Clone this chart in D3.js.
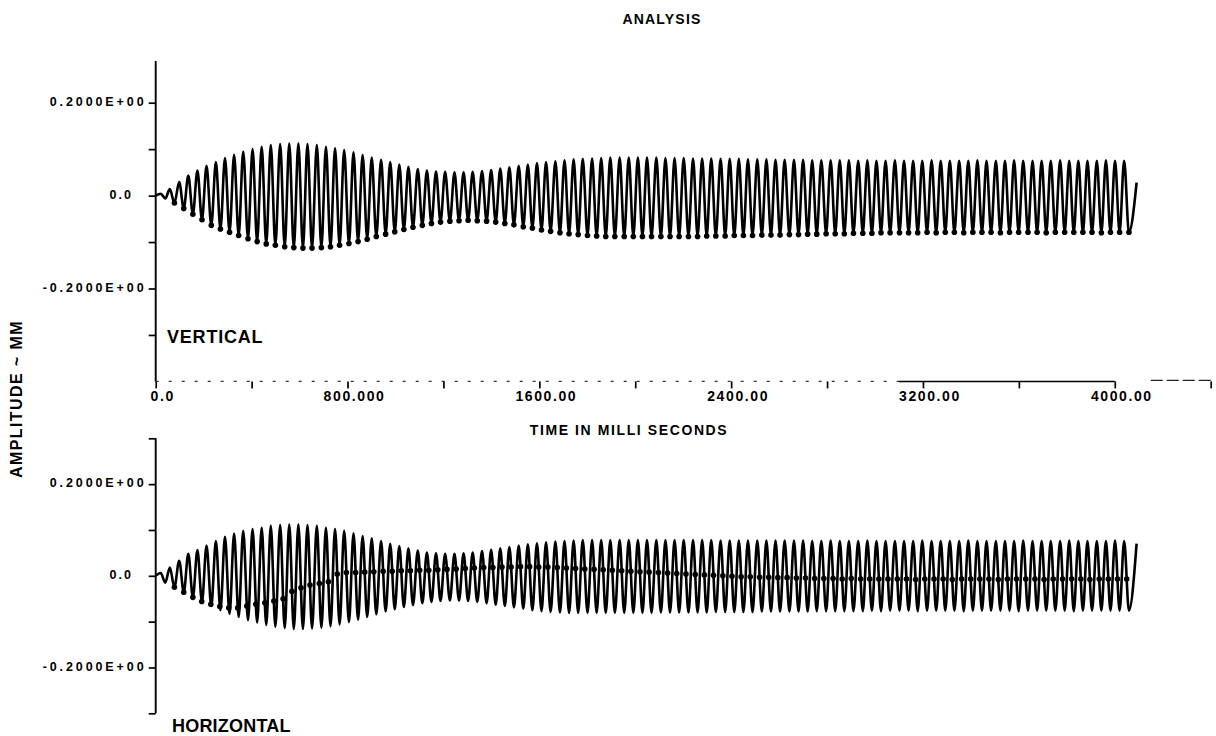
<!DOCTYPE html>
<html><head><meta charset="utf-8">
<script src="https://cdn.jsdelivr.net/npm/d3@7"></script>
<style>body{margin:0;background:#fff}svg{display:block}</style>
</head><body><svg id="c" width="1216" height="736"></svg>
<script>
// ---- data ----
const peakTimes = [21,59,98,136,174,212,251,289,327,365,
404,442,480,519,557,595,633,672,710,748,
786,825,863,901,940,978,1016,1054,1093,1131,
1169,1207,1246,1284,1322,1361,1399,1437,1475,1514,
1552,1590,1628,1667,1705,1743,1781,1820,1858,1896,
1935,1973,2011,2049,2088,2126,2164,2202,2241,2279,
2317,2356,2394,2432,2470,2509,2547,2585,2623,2662,
2700,2738,2776,2815,2853,2891,2930,2968,3006,3044,
3083,3121,3159,3197,3236,3274,3312,3351,3389,3427,
3465,3504,3542,3580,3618,3657,3695,3733,3772,3810,
3848,3886,3925,3963,4001,4039];
const troughTimes = [40,78,117,155,193,232,270,308,346,385,
423,461,499,538,576,614,652,691,729,767,
806,844,882,920,959,997,1035,1073,1112,1150,
1188,1227,1265,1303,1341,1380,1418,1456,1494,1533,
1571,1609,1647,1686,1724,1762,1801,1839,1877,1915,
1954,1992,2030,2068,2107,2145,2183,2222,2260,2298,
2336,2375,2413,2451,2489,2528,2566,2604,2643,2681,
2719,2757,2796,2834,2872,2910,2949,2987,3025,3063,
3102,3140,3178,3217,3255,3293,3331,3370,3408,3446,
3484,3523,3561,3599,3638,3676,3714,3752,3791,3829,
3867,3905,3944,3982,4020,4059];
const endTime = 4091;

const vertPeaks = [0.004,0.014,0.029,0.043,0.054,0.064,0.072,0.081,0.088,0.095,
0.100,0.105,0.109,0.111,0.112,0.112,0.111,0.109,0.105,0.102,
0.098,0.093,0.088,0.082,0.077,0.072,0.067,0.062,0.057,0.054,
0.052,0.051,0.050,0.050,0.051,0.053,0.055,0.058,0.061,0.064,
0.067,0.070,0.072,0.074,0.076,0.078,0.079,0.080,0.081,0.082,
0.082,0.082,0.082,0.082,0.082,0.081,0.081,0.081,0.080,0.080,
0.080,0.079,0.079,0.079,0.078,0.078,0.078,0.077,0.077,0.077,
0.077,0.076,0.076,0.076,0.076,0.076,0.075,0.076,0.075,0.075,
0.076,0.075,0.075,0.075,0.076,0.075,0.075,0.075,0.075,0.076,
0.075,0.075,0.075,0.076,0.075,0.075,0.075,0.075,0.076,0.075,
0.075,0.075,0.075,0.076,0.075,0.075];
const vertTroughs = [-0.006,-0.016,-0.028,-0.040,-0.052,-0.064,-0.072,-0.079,-0.086,-0.093,
-0.099,-0.104,-0.107,-0.110,-0.112,-0.113,-0.113,-0.112,-0.110,-0.107,
-0.103,-0.099,-0.094,-0.088,-0.083,-0.078,-0.073,-0.068,-0.064,-0.060,
-0.057,-0.055,-0.054,-0.053,-0.054,-0.055,-0.057,-0.060,-0.063,-0.067,
-0.070,-0.074,-0.077,-0.080,-0.082,-0.084,-0.086,-0.087,-0.088,-0.088,
-0.088,-0.088,-0.088,-0.088,-0.088,-0.088,-0.088,-0.088,-0.088,-0.087,
-0.087,-0.087,-0.086,-0.086,-0.086,-0.085,-0.085,-0.085,-0.084,-0.084,
-0.083,-0.083,-0.082,-0.082,-0.082,-0.081,-0.081,-0.081,-0.080,-0.080,
-0.080,-0.080,-0.080,-0.079,-0.080,-0.079,-0.079,-0.080,-0.079,-0.079,
-0.079,-0.080,-0.079,-0.079,-0.079,-0.079,-0.080,-0.079,-0.079,-0.079,
-0.079,-0.079,-0.080,-0.079,-0.079,-0.079];
const vertEnd = 0.028;

const horPeaks = [0.006,0.018,0.033,0.048,0.056,0.066,0.076,0.085,0.092,0.098,
0.102,0.105,0.109,0.111,0.112,0.112,0.111,0.109,0.105,0.102,
0.098,0.093,0.087,0.082,0.076,0.070,0.065,0.060,0.055,0.051,
0.049,0.048,0.048,0.049,0.051,0.054,0.057,0.060,0.063,0.066,
0.069,0.071,0.073,0.075,0.076,0.077,0.078,0.078,0.078,0.078,
0.078,0.078,0.078,0.078,0.078,0.078,0.078,0.078,0.078,0.078,
0.078,0.077,0.077,0.077,0.077,0.077,0.077,0.077,0.077,0.077,
0.077,0.076,0.076,0.077,0.076,0.076,0.076,0.077,0.076,0.076,
0.076,0.076,0.076,0.077,0.076,0.076,0.076,0.076,0.077,0.076,
0.076,0.076,0.076,0.076,0.077,0.076,0.076,0.076,0.076,0.077,
0.076,0.076,0.076,0.076,0.077,0.076];
const horTroughs = [-0.015,-0.025,-0.036,-0.047,-0.057,-0.066,-0.075,-0.083,-0.090,-0.097,
-0.102,-0.107,-0.111,-0.114,-0.116,-0.116,-0.115,-0.113,-0.110,-0.106,
-0.101,-0.096,-0.090,-0.084,-0.078,-0.073,-0.068,-0.064,-0.060,-0.057,
-0.055,-0.054,-0.054,-0.055,-0.057,-0.060,-0.063,-0.066,-0.069,-0.072,
-0.075,-0.077,-0.079,-0.080,-0.081,-0.081,-0.081,-0.081,-0.081,-0.081,
-0.081,-0.081,-0.081,-0.081,-0.080,-0.080,-0.080,-0.080,-0.080,-0.080,
-0.079,-0.079,-0.079,-0.079,-0.079,-0.078,-0.078,-0.078,-0.078,-0.078,
-0.078,-0.077,-0.077,-0.077,-0.077,-0.077,-0.077,-0.076,-0.077,-0.076,
-0.076,-0.076,-0.077,-0.076,-0.076,-0.076,-0.076,-0.077,-0.076,-0.076,
-0.076,-0.076,-0.076,-0.077,-0.076,-0.076,-0.076,-0.076,-0.076,-0.077,
-0.076,-0.076,-0.076,-0.076,-0.076,-0.076];
const horEnd = 0.07;
// dot marker level on each cycle of the horizontal trace
const horDots = [null,-0.030,-0.040,-0.048,-0.056,-0.062,-0.067,-0.070,-0.070,-0.066,
-0.062,-0.059,-0.055,-0.050,-0.034,-0.026,-0.020,-0.017,-0.013,0.004,
0.007,0.007,0.008,0.009,0.010,0.010,0.011,0.011,0.012,0.012,
0.013,0.014,0.015,0.016,0.017,0.018,0.018,0.019,0.019,0.020,
0.020,0.019,0.019,0.018,0.017,0.016,0.015,0.014,0.013,0.012,
0.011,0.010,0.009,0.008,0.007,0.006,0.005,0.004,0.003,0.002,
0.001,0.000,-0.001,-0.002,-0.002,-0.003,-0.003,-0.004,-0.004,-0.005,
-0.005,-0.006,-0.006,-0.006,-0.007,-0.006,-0.007,-0.007,-0.007,-0.007,
-0.007,-0.007,-0.008,-0.007,-0.007,-0.007,-0.008,-0.007,-0.007,-0.007,
-0.007,-0.008,-0.007,-0.007,-0.007,-0.007,-0.008,-0.007,-0.007,-0.007,
-0.007,-0.008,-0.007,-0.007,-0.007,-0.007];

const xTicks = [0,400,800,1200,1600,2000,2400,2800,3200,3600,4000,4400];
const xTickLabels = {0:"0.0",800:"800.000",1600:"1600.00",2400:"2400.00",3200:"3200.00",4000:"4000.00"};
const yTicksTop = [0.2,0.1,0,-0.1,-0.2,-0.3];
const yTicksBottom = [0.3,0.2,0.1,0,-0.1,-0.2,-0.3];
const yTickLabels = {"0.2":"0.2000E+00","0":"0.0","-0.2":"-0.2000E+00"};
const titleText = "ANALYSIS";
const xTitle = "TIME IN MILLI SECONDS";
const yTitle = "AMPLITUDE ~ MM";
const panelNames = ["VERTICAL","HORIZONTAL"];

// ---- drawing ----
const svg = d3.select("#c");
svg.append("rect").attr("width",1216).attr("height",736).attr("fill","#fff");
const FONT = "'Liberation Sans', Arial, Helvetica, sans-serif";

const x = d3.scaleLinear().domain([0,4400]).range([155.7,1210.7]);
const yTop = d3.scaleLinear().domain([-0.4,0.2]).range([381.4,102.7]);
const yBot = d3.scaleLinear().domain([-0.3,0.3]).range([713.3,438.3]);

function buildPoints(peaks, troughs, endVal){
  const pts=[[0,0]];
  for(let k=0;k<peakTimes.length;k++){
    pts.push([peakTimes[k],peaks[k]]);
    pts.push([troughTimes[k],troughs[k]]);
  }
  pts.push([endTime,endVal]);
  return pts;
}

function drawPanel(y, peaks, troughs, endVal, yTicks, axisTopVal){
  const g = svg.append("g");
  const ax = d3.axisLeft(y).tickValues(yTicks).tickSize(7).tickFormat("");
  const ag = g.append("g").attr("transform",`translate(${x(0)},0)`).call(ax);
  ag.select(".domain").remove();
  ag.selectAll(".tick line").attr("stroke","#000").attr("stroke-width",1.7);
  g.append("line").attr("x1",x(0)).attr("x2",x(0))
    .attr("y1",y(y.domain()[0])).attr("y2",y(axisTopVal))
    .attr("stroke","#000").attr("stroke-width",1.9);
  yTicks.forEach(v=>{
    const key = String(+v.toFixed(1));
    const lab = yTickLabels[key];
    if(!lab) return;
    g.append("text").attr("x", lab==="0.0" ? 133 : 146.5).attr("y", y(v)+3.2)
      .attr("text-anchor","end").attr("font-family",FONT).attr("font-weight","bold")
      .attr("font-size",12.5).attr("letter-spacing", lab==="0.0" ? 2 : 2.9).text(lab);
  });
  const pts = buildPoints(peaks, troughs, endVal);
  const line = d3.line().x(d=>x(d[0])).y(d=>y(d[1])).curve(d3.curveMonotoneX);
  g.append("path").datum(pts).attr("d",line).attr("fill","none")
    .attr("stroke","#000").attr("stroke-width",2.6).attr("stroke-linejoin","round");
  return g;
}

const gTop = drawPanel(yTop, vertPeaks, vertTroughs, vertEnd, yTicksTop, 0.29);
gTop.selectAll("circle.m").data(d3.range(1,peakTimes.length)).join("circle")
  .attr("cx",k=>x(troughTimes[k])).attr("cy",k=>yTop(vertTroughs[k]))
  .attr("r",2.8).attr("fill","#000");

const gBot = drawPanel(yBot, horPeaks, horTroughs, horEnd, yTicksBottom, 0.3);
const dotPts = [];
horDots.forEach((v,k)=>{
  if(v===null) return;
  const up=horPeaks[k], lo=horTroughs[k];
  let f=(up-v)/(up-lo); f=Math.max(0,Math.min(1,f));
  let u=f; for(let i=0;i<20;i++){ const s=3*u*u-2*u*u*u; const ds=6*u-6*u*u||1e-3; u=Math.max(0,Math.min(1,u-(s-f)/ds)); }
  const t=peakTimes[k]+u*(troughTimes[k]-peakTimes[k]);
  dotPts.push([t, Math.max(lo,Math.min(up,v))]);
});
gBot.selectAll("circle.m").data(dotPts).join("circle")
  .attr("cx",d=>x(d[0])).attr("cy",d=>yBot(d[1])).attr("r",2.8).attr("fill","#000");

// x axis (top panel baseline)
const xAxisY = yTop(-0.4);
const xa = d3.axisBottom(x).tickValues(xTicks).tickSize(7).tickFormat("");
const xg = svg.append("g").attr("transform",`translate(0,${xAxisY})`).call(xa);
xg.select(".domain").remove();
xg.selectAll(".tick line").attr("stroke","#000").attr("stroke-width",1.7);
svg.append("line").attr("x1",x(0)).attr("x2",x(3100)).attr("y1",xAxisY).attr("y2",xAxisY)
  .attr("stroke","#333").attr("stroke-width",1.2).attr("stroke-dasharray","3,10");
svg.append("line").attr("x1",x(3100)).attr("x2",x(4000)).attr("y1",xAxisY).attr("y2",xAxisY)
  .attr("stroke","#000").attr("stroke-width",1.5);
svg.append("line").attr("x1",x(4150)).attr("x2",x(4400)).attr("y1",xAxisY-1).attr("y2",xAxisY-1)
  .attr("stroke","#222").attr("stroke-width",1.3).attr("stroke-dasharray","12,4");
xTicks.forEach(v=>{
  const lab = xTickLabels[v]; if(!lab) return;
  svg.append("text").attr("x",x(v)+7).attr("y",xAxisY+20).attr("text-anchor","middle")
    .attr("font-family",FONT).attr("font-weight","bold").attr("font-size",14)
    .attr("letter-spacing",1.6).text(lab);
});

// titles
svg.append("text").attr("x",662).attr("y",24).attr("text-anchor","middle")
  .attr("font-family",FONT).attr("font-weight","bold").attr("font-size",14)
  .attr("letter-spacing",1.2).text(titleText);
svg.append("text").attr("x",629).attr("y",435).attr("text-anchor","middle")
  .attr("font-family",FONT).attr("font-weight","bold").attr("font-size",14)
  .attr("letter-spacing",1.6).text(xTitle);
svg.append("text").attr("transform","translate(22,399) rotate(-90)").attr("text-anchor","middle")
  .attr("font-family",FONT).attr("font-weight","bold").attr("font-size",16)
  .attr("letter-spacing",1.4).text(yTitle);
svg.append("text").attr("x",167).attr("y",342.7)
  .attr("font-family",FONT).attr("font-weight","bold").attr("font-size",18)
  .attr("letter-spacing",0.8).text(panelNames[0]);
svg.append("text").attr("x",172).attr("y",731.7)
  .attr("font-family",FONT).attr("font-weight","bold").attr("font-size",18)
  .attr("letter-spacing",0.2).text(panelNames[1]);
</script>
</body></html>
